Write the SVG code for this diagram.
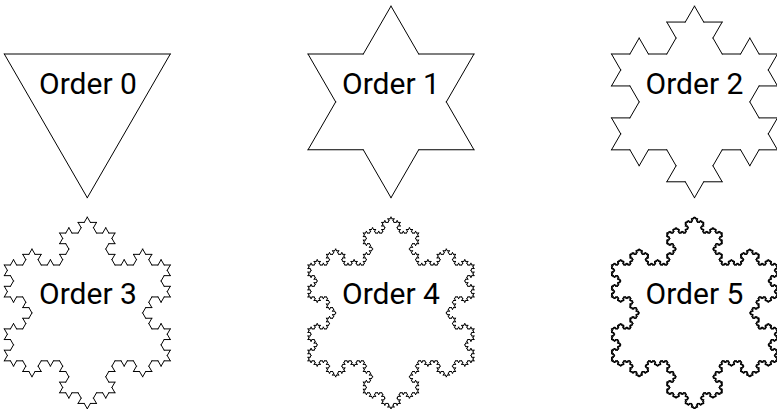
<svg xmlns="http://www.w3.org/2000/svg" xmlns:xlink="http://www.w3.org/1999/xlink" width="777" height="409" viewBox="0 0 777 409">
<style>
.seg{fill:none;stroke:#000;stroke-width:1;stroke-linecap:round;vector-effect:non-scaling-stroke}
.lbl{font-family:Roboto,"Liberation Sans",sans-serif;font-size:30px;fill:#000;text-anchor:middle}
</style>
<defs>
<path id="k0" class="seg" d="M0,0 L1,0"/>
<g id="k1"><use href="#k0" transform="scale(0.333333)"/><use href="#k0" transform="translate(0.333333,0) rotate(-60) scale(0.333333)"/><use href="#k0" transform="translate(0.5,-0.288675) rotate(60) scale(0.333333)"/><use href="#k0" transform="translate(0.666667,0) scale(0.333333)"/></g>
<g id="k2"><use href="#k1" transform="scale(0.333333)"/><use href="#k1" transform="translate(0.333333,0) rotate(-60) scale(0.333333)"/><use href="#k1" transform="translate(0.5,-0.288675) rotate(60) scale(0.333333)"/><use href="#k1" transform="translate(0.666667,0) scale(0.333333)"/></g>
<g id="k3"><use href="#k2" transform="scale(0.333333)"/><use href="#k2" transform="translate(0.333333,0) rotate(-60) scale(0.333333)"/><use href="#k2" transform="translate(0.5,-0.288675) rotate(60) scale(0.333333)"/><use href="#k2" transform="translate(0.666667,0) scale(0.333333)"/></g>
<g id="k4"><use href="#k3" transform="scale(0.333333)"/><use href="#k3" transform="translate(0.333333,0) rotate(-60) scale(0.333333)"/><use href="#k3" transform="translate(0.5,-0.288675) rotate(60) scale(0.333333)"/><use href="#k3" transform="translate(0.666667,0) scale(0.333333)"/></g>
<g id="k5"><use href="#k4" transform="scale(0.333333)"/><use href="#k4" transform="translate(0.333333,0) rotate(-60) scale(0.333333)"/><use href="#k4" transform="translate(0.5,-0.288675) rotate(60) scale(0.333333)"/><use href="#k4" transform="translate(0.666667,0) scale(0.333333)"/></g>
<g id="sf0"><use href="#k0"/><use href="#k0" transform="translate(1,0) rotate(120)"/><use href="#k0" transform="translate(0.5,0.866025) rotate(240)"/></g>
<g id="sf1"><use href="#k1"/><use href="#k1" transform="translate(1,0) rotate(120)"/><use href="#k1" transform="translate(0.5,0.866025) rotate(240)"/></g>
<g id="sf2"><use href="#k2"/><use href="#k2" transform="translate(1,0) rotate(120)"/><use href="#k2" transform="translate(0.5,0.866025) rotate(240)"/></g>
<g id="sf3"><use href="#k3"/><use href="#k3" transform="translate(1,0) rotate(120)"/><use href="#k3" transform="translate(0.5,0.866025) rotate(240)"/></g>
<g id="sf4"><use href="#k4"/><use href="#k4" transform="translate(1,0) rotate(120)"/><use href="#k4" transform="translate(0.5,0.866025) rotate(240)"/></g>
<g id="sf5"><use href="#k5"/><use href="#k5" transform="translate(1,0) rotate(120)"/><use href="#k5" transform="translate(0.5,0.866025) rotate(240)"/></g>
</defs>
<rect width="777" height="409" fill="#fff"/>
<g id="order0"><use href="#sf0" transform="translate(4.3,54) scale(166)"/><text class="lbl" x="88" y="94">Order 0</text></g>
<g id="order1"><use href="#sf1" transform="translate(308,54) scale(166)"/><text class="lbl" x="391" y="94">Order 1</text></g>
<g id="order2"><use href="#sf2" transform="translate(611.5,54) scale(166)"/><text class="lbl" x="694.5" y="94">Order 2</text></g>
<g id="order3"><use href="#sf3" transform="translate(4.3,265) scale(166)"/><text class="lbl" x="88" y="304">Order 3</text></g>
<g id="order4"><use href="#sf4" transform="translate(308,265) scale(166)"/><text class="lbl" x="391" y="304">Order 4</text></g>
<g id="order5"><use href="#sf5" transform="translate(611.5,265) scale(166)"/><text class="lbl" x="694.5" y="304">Order 5</text></g>
</svg>
